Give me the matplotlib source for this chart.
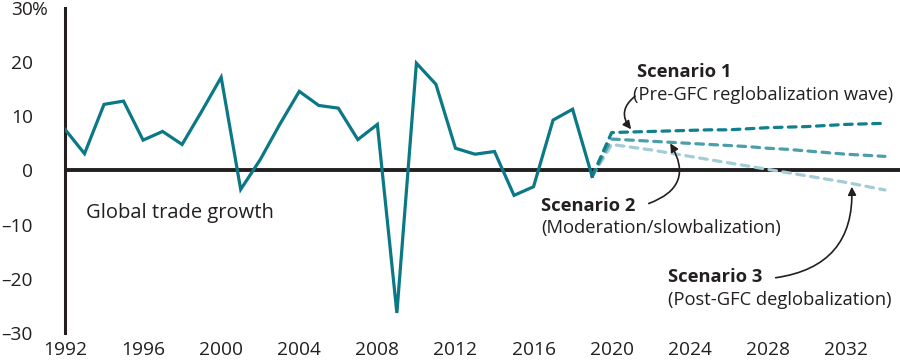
import numpy as np
import matplotlib
matplotlib.use('Agg')
import matplotlib.pyplot as plt

# Historical global trade growth (%)
years = list(range(1992, 2020))
growth = [7.6, 3.1, 12.2, 12.8, 5.6, 7.2, 4.8, 10.9, 17.2, -3.5,
          2.0, 8.5, 14.6, 12.0, 11.5, 5.7, 8.5, -26.3, 19.8, 15.9,
          4.1, 3.0, 3.5, -4.6, -3.0, 9.3, 11.3, -1.1]

# Scenario projections, 2019-2034
scen_years = list(range(2019, 2035))
scen1 = [-1.1, 7.0, 7.1, 7.2, 7.3, 7.4, 7.5, 7.5, 7.7, 7.9, 8.0, 8.1, 8.3, 8.5, 8.6, 8.7]
scen2 = [-1.1, 5.8, 5.6, 5.4, 5.2, 5.0, 4.8, 4.6, 4.4, 4.1, 3.9, 3.6, 3.3, 3.0, 2.8, 2.6]
scen3 = [-1.1, 4.8, 4.3, 3.8, 3.2, 2.6, 2.0, 1.4, 0.8, 0.2, -0.4, -1.0, -1.6, -2.2, -2.9, -3.6]

xticks = list(range(1992, 2033, 4))
yticks = [-30, -20, -10, 0, 10, 20, 30]
ylabels = ['\u201330', '\u201320', '\u201310', '0', '10', '20', '30']

plt.rcParams['font.family'] = ['Open Sans', 'DejaVu Sans']
txt = '#231f20'
fs = 13.8   # ticks
fs1 = 14.5  # main label
fs2 = 13.2  # scenario labels

fig = plt.figure(figsize=(9, 3.6), dpi=100)
ax = fig.add_axes([0.0722, 0.075, 0.9278, 0.903])

ax.plot(years, growth, color='#0b7886', lw=2.3, solid_joinstyle='miter', zorder=4)
dash = (2.4, 2.0)
for vals, c in [(scen3, '#a3ccd5'), (scen2, '#4c9eaa'), (scen1, '#10808d')]:
    ax.plot(scen_years, vals, color=c, lw=2.3, dashes=dash,
            dash_capstyle='round', zorder=3)

ax.axhline(0, color=txt, lw=2.8, zorder=2)

ax.set_xlim(1992, 2034.77)
ax.set_ylim(-30, 30)
for s in ['top', 'right', 'bottom']:
    ax.spines[s].set_visible(False)
ax.spines['left'].set_linewidth(2.2)
ax.spines['left'].set_color(txt)

ax.set_xticks(xticks)
ax.set_xticklabels([str(t) for t in xticks])
ax.set_yticks(yticks)
ax.set_yticklabels(ylabels)
ax.tick_params(axis='both', length=0, labelsize=fs, colors=txt)
ax.tick_params(axis='y', pad=23)
ax.tick_params(axis='x', pad=6)
ax.text(-0.039, 1.0, '%', transform=ax.transAxes, fontsize=fs, color=txt,
        ha='left', va='center_baseline')

# Labels
ax.text(1993.1, -7.8, 'Global trade growth', fontsize=fs1, color=txt, va='center')
ax.text(2021.3, 18.1, 'Scenario 1', fontsize=fs2, fontweight='bold', color=txt, va='center')
ax.text(2021.1, 13.9, '(Pre-GFC reglobalization wave)', fontsize=fs2, color=txt, va='center')
ax.text(2016.4, -6.5, 'Scenario 2', fontsize=fs2, fontweight='bold', color=txt, va='center')
ax.text(2016.4, -10.7, '(Moderation/slowbalization)', fontsize=fs2, color=txt, va='center')
ax.text(2022.9, -19.6, 'Scenario 3', fontsize=fs2, fontweight='bold', color=txt, va='center')
ax.text(2022.9, -23.9, '(Post-GFC deglobalization)', fontsize=fs2, color=txt, va='center')

# Curved arrows
arrow = dict(arrowstyle='-|>', color=txt, lw=1.2, mutation_scale=12, shrinkA=0, shrinkB=0)
ax.annotate('', xy=(2021.0, 7.6), xytext=(2021.2, 13.7),
            arrowprops=dict(arrow, connectionstyle='arc3,rad=0.5'))
ax.annotate('', xy=(2023.0, 5.0), xytext=(2021.9, -6.1),
            arrowprops=dict(arrow, connectionstyle='arc3,rad=0.6'))
ax.annotate('', xy=(2032.3, -3.0), xytext=(2028.4, -19.8),
            arrowprops=dict(arrow, connectionstyle='arc3,rad=0.45'))

plt.savefig('out.png', dpi=100)
